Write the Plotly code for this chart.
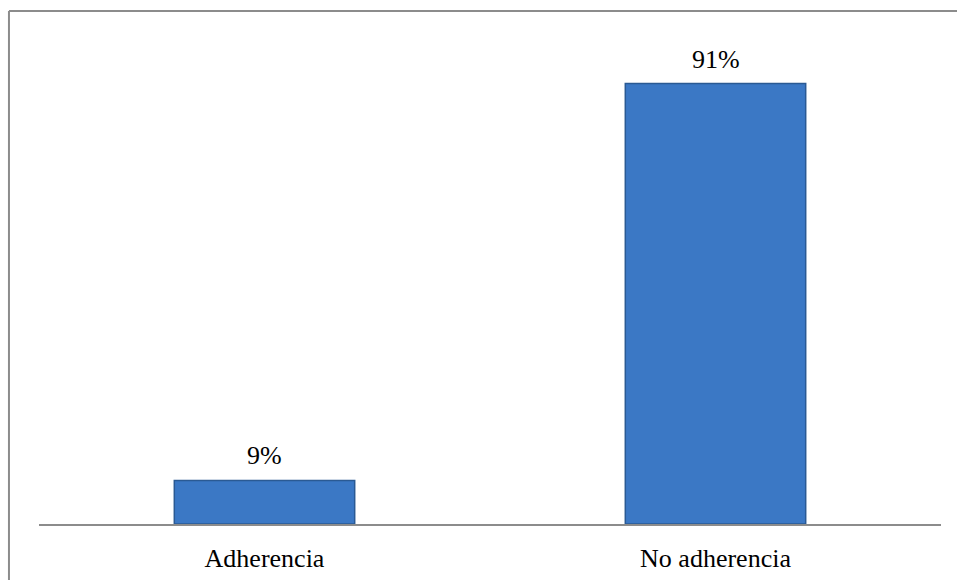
import plotly.graph_objects as go

categories = ["Adherencia", "No adherencia"]
values = [9, 91]
labels = ["9%", "91%"]

SERIF = "Times New Roman, Liberation Serif, DejaVu Serif, serif"

fig = go.Figure()
fig.add_trace(go.Bar(
    x=categories, y=values,
    width=0.4,
    marker=dict(color="#3b78c5", line=dict(color="#2a5a94", width=1.5)),
    cliponaxis=False,
))

for c, v, t in zip(categories, values, labels):
    fig.add_annotation(x=c, y=v, text=t, showarrow=False, yanchor="bottom",
                       yshift=8, font=dict(family=SERIF, size=26, color="#000000"))

fig.update_layout(
    width=957, height=580,
    margin=dict(l=39, r=16, t=40, b=56),
    paper_bgcolor="white", plot_bgcolor="white",
    showlegend=False,
    font=dict(family=SERIF, size=26, color="#000000"),
    xaxis=dict(showline=True, linecolor="#8c8c8c", linewidth=2, ticks="",
               ticklabelstandoff=10, automargin=False,
               tickfont=dict(family=SERIF, size=26, color="#000000")),
    yaxis=dict(range=[0, 100], visible=False),
    shapes=[
        dict(type="line", xref="paper", yref="paper", x0=-0.0333, x1=1.02, y0=1.06, y1=1.06,
             line=dict(color="#8c8c8c", width=2)),
        dict(type="line", xref="paper", yref="paper", x0=-0.0333, x1=-0.0333, y0=1.06, y1=-0.2,
             line=dict(color="#8c8c8c", width=2)),
    ],
)
fig.write_html("out.html")
